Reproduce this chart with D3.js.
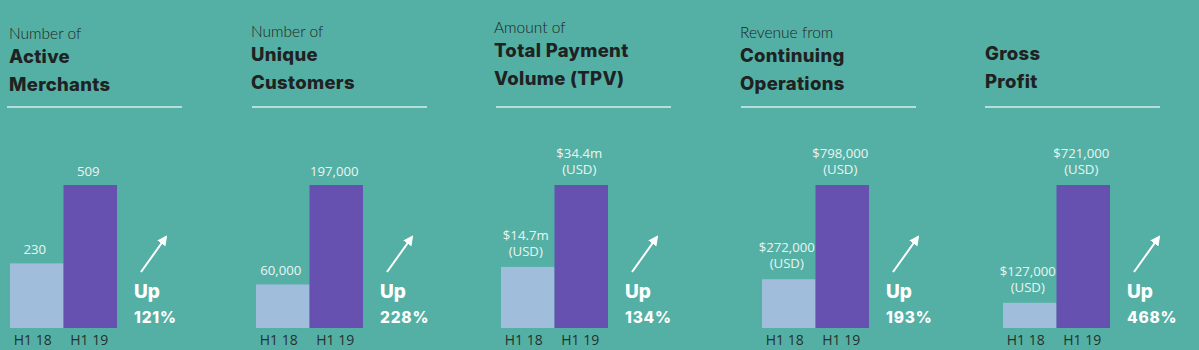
<!DOCTYPE html>
<html><head><meta charset="utf-8">
<script src="https://cdn.jsdelivr.net/npm/d3@7"></script>
<style>
html,body{margin:0;padding:0;background:#54b0a4;}
svg{display:block;}
</style></head>
<body>
<svg id="chart" width="1199" height="350"></svg>
<script>
// ---- data ----
const prefixes = ["Number of", "Number of", "Amount of", "Revenue from", ""];
const titleLines = [["Active", "Merchants"], ["Unique", "Customers"], ["Total Payment", "Volume (TPV)"], ["Continuing", "Operations"], ["Gross", "Profit"]];
const periods = ["H1 18", "H1 19"];
const valuesH118 = [230, 60000, 14.7, 272000, 127000];
const valuesH119 = [509, 197000, 34.4, 798000, 721000];
const labelsH118 = [["230"], ["60,000"], ["$14.7m", "(USD)"], ["$272,000", "(USD)"], ["$127,000", "(USD)"]];
const labelsH119 = [["509"], ["197,000"], ["$34.4m", "(USD)"], ["$798,000", "(USD)"], ["$721,000", "(USD)"]];
const growth = ["121%", "228%", "134%", "193%", "468%"];

// ---- layout ----
const textX = [9, 251, 494, 740, 985];
const ruleX = [7, 252, 496, 741, 985];
const boldBase = [63, 61, 57, 62, 60];
const barLeft = [10, 256, 501, 762, 1003];
const barPairW = 107;
const baseY = 328, topY = 185;
const colors = {bg: "#54b0a4", light: "#a0bddc", purple: "#6650b0", title: "#1f2222", val: "#eaf5f3", tick: "#26302f"};
const heavy = "Inter, Lato, sans-serif";

const svg = d3.select("#chart");
svg.append("rect").attr("width", 1199).attr("height", 350).attr("fill", colors.bg);

const defs = svg.append("defs");
defs.append("marker").attr("id", "ah").attr("viewBox", "0 0 10 10").attr("refX", 8).attr("refY", 5)
  .attr("markerWidth", 5).attr("markerHeight", 5).attr("orient", "auto").attr("markerUnits", "strokeWidth")
  .append("path").attr("d", "M0,0 L10,5 L0,10 Z").attr("fill", "#fff");

prefixes.forEach((pre, i) => {
  const g = svg.append("g");
  // titles
  if (pre) g.append("text").attr("x", textX[i]).attr("y", boldBase[i] - 24).text(pre)
    .attr("font-family", "Lato").attr("font-weight", 300).attr("font-size", 15.5).attr("fill", colors.title);
  titleLines[i].forEach((t, k) => {
    g.append("text").attr("x", textX[i]).attr("y", boldBase[i] + k * 28).text(t)
      .attr("font-family", heavy).attr("font-weight", 800).attr("font-size", 18.5)
      .attr("letter-spacing", 0.3).attr("fill", colors.title);
  });
  g.append("line").attr("x1", ruleX[i]).attr("x2", ruleX[i] + 175).attr("y1", 107).attr("y2", 107)
    .attr("stroke", "#d6efeb").attr("stroke-width", 1.5);

  // scales
  const x = d3.scaleBand().domain(periods).range([barLeft[i], barLeft[i] + barPairW]).padding(0);
  const y = d3.scaleLinear().domain([0, valuesH119[i]]).range([baseY, topY]);
  const rows = [
    {p: periods[0], v: valuesH118[i], lab: labelsH118[i], c: colors.light},
    {p: periods[1], v: valuesH119[i], lab: labelsH119[i], c: colors.purple}
  ];
  g.selectAll("rect.bar").data(rows).join("rect").attr("class", "bar")
    .attr("x", d => x(d.p)).attr("width", x.bandwidth())
    .attr("y", d => y(d.v)).attr("height", d => baseY - y(d.v)).attr("fill", d => d.c);

  rows.forEach(d => {
    const n = d.lab.length;
    const gap = n > 1 ? 11 : 9;
    d.lab.forEach((s, k) => {
      g.append("text").attr("x", x(d.p) + x.bandwidth() / 2 - 2)
        .attr("y", y(d.v) - gap - (n - 1 - k) * 16)
        .attr("text-anchor", "middle").text(s)
        .attr("font-family", "Open Sans").attr("font-size", 13.2).attr("fill", colors.val);
    });
  });

  // axis labels
  const axis = d3.axisBottom(x).tickSize(0).tickPadding(0);
  const ag = g.append("g").attr("transform", `translate(0,${baseY})`).call(axis);
  ag.select(".domain").remove();
  ag.selectAll("text").attr("font-family", "Open Sans").attr("font-size", 14).attr("fill", colors.tick)
    .attr("dy", null).attr("y", 17).attr("dx", (d, k) => k === 0 ? -4 : -1);

  // arrow + growth
  const rx = barLeft[i] + barPairW;
  g.append("line").attr("x1", rx + 24).attr("y1", 272).attr("x2", rx + 49).attr("y2", 237)
    .attr("stroke", "#fff").attr("stroke-width", 2).attr("marker-end", "url(#ah)");
  g.append("text").attr("x", rx + 17).attr("y", 298).text("Up")
    .attr("font-family", heavy).attr("font-weight", 800).attr("font-size", 19).attr("fill", "#fff");
  g.append("text").attr("x", rx + 17).attr("y", 323).text(growth[i])
    .attr("font-family", heavy).attr("font-weight", 800).attr("font-size", 15.5)
    .attr("letter-spacing", 0.8).attr("fill", "#fff");
});
</script>
</body></html>
